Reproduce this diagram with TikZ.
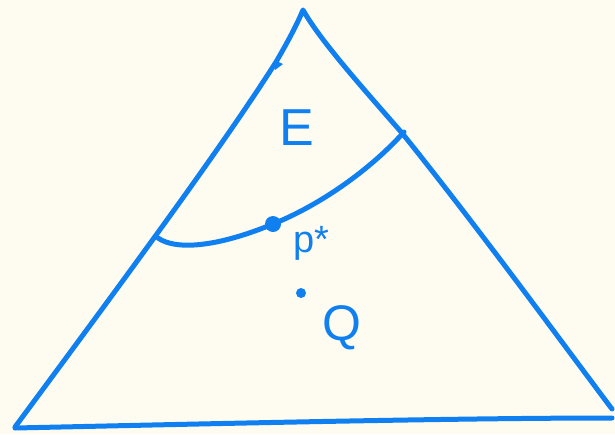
\documentclass[tikz,border=0pt]{standalone}
\usepackage{fontspec}
\setmainfont{Liberation Sans}
\definecolor{bg}{HTML}{FEFCF0}
\definecolor{ink}{HTML}{1080F0}
\begin{document}
\begin{tikzpicture}[x=1pt,y=-1pt,
  stroke/.style={draw=ink,line width=5pt,line cap=round,line join=round},
  lbl/.style={text=ink,inner sep=0pt,font=\fontsize{50}{52}\selectfont},
  pt/.style={circle,fill=ink,inner sep=0pt,minimum size=16pt}]
\fill[bg] (0,0) rectangle (615,434);
\useasboundingbox (0,0) rectangle (615,434);
% triangle
\draw[stroke] (15,427) .. controls (120,285) and (220,150) .. (276,62)
  .. controls (290,38) and (298,22) .. (303,10)
  .. controls (320,40) and (360,85) .. (402,133)
  .. controls (480,230) and (560,340) .. (612,409);
\draw[stroke] (15,428) .. controls (200,424) and (450,418) .. (612,418);
\fill[ink] (274,60) -- (283,64) -- (275,70) -- cycle;
% dot and curve
\node[pt] (p) at (273,224) {};
\coordinate (cl) at (158,238);
\coordinate (cr) at (404,132);
\draw[stroke] (cl) .. controls (175,250) and (215,248) .. (p.center)
  .. controls (320,205) and (370,170) .. (cr);
% labels
\node[lbl,font=\fontsize{52}{54}\selectfont] (E) at (297,128) {E};
\node[lbl,font=\fontsize{38}{40}\selectfont] (ps) at (311,243) {p*};
\node[circle,fill=ink,inner sep=0pt,minimum size=10pt] (s) at (301,293) {};
\node[lbl] (Q) at (342,328) {Q};
\end{tikzpicture}
\end{document}
